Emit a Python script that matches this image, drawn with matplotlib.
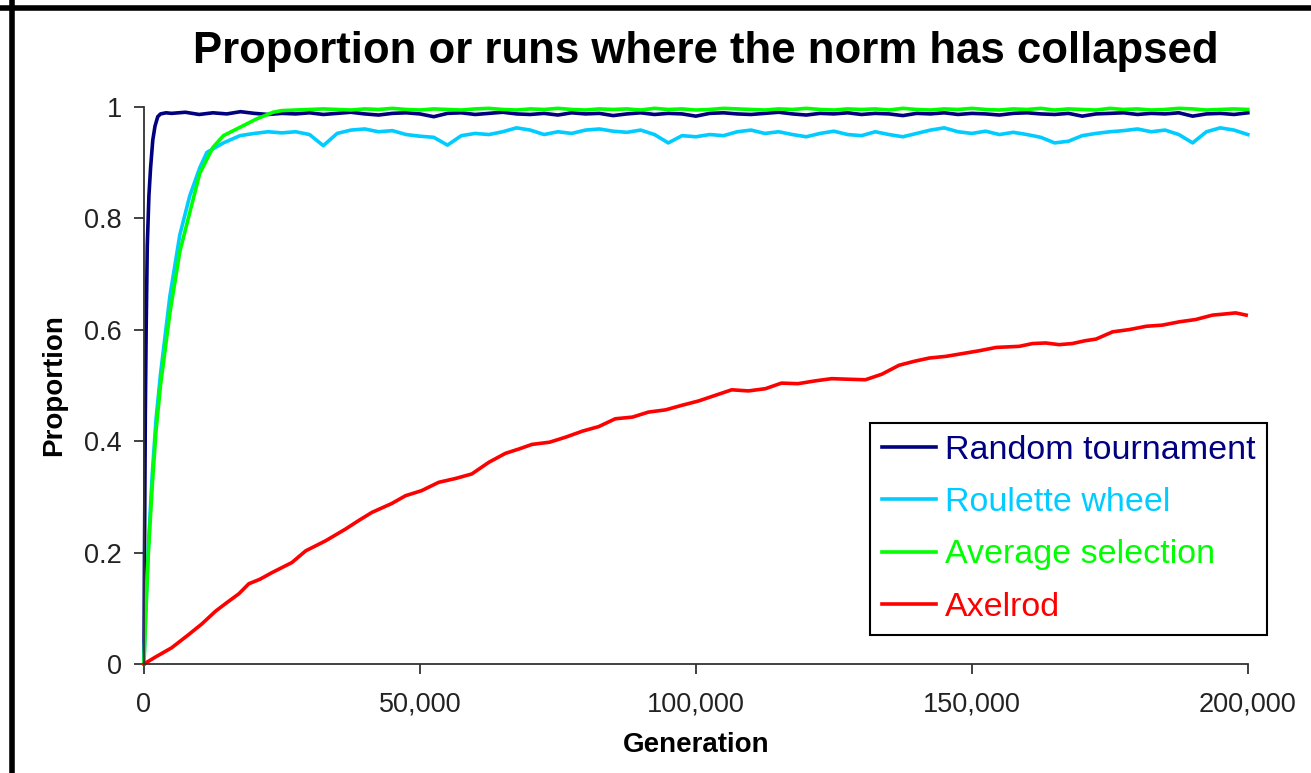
import numpy as np
import matplotlib
matplotlib.use("Agg")
import matplotlib.pyplot as plt
from matplotlib.lines import Line2D

plt.rcParams["font.family"] = ["Liberation Sans", "DejaVu Sans"]

# generations sampled along the plateau (shared by the three fast series)
plateau_gen = np.arange(25000, 200001, 2500)

# Random tournament
navy_rise_x = [0, 100, 250, 400, 600, 900, 1200, 1600, 2000, 2500, 3000, 4000, 5000,
               7500, 10000, 12500, 15000, 17500, 20000, 22500]
navy_rise_y = [0.0, 0.20, 0.45, 0.60, 0.75, 0.84, 0.89, 0.94, 0.965, 0.982, 0.987, 0.989, 0.988,
               0.990, 0.986, 0.989, 0.987, 0.991, 0.988, 0.986]
navy_plateau = [0.988, 0.987, 0.989, 0.986, 0.988, 0.990, 0.987, 0.985, 0.988, 0.989,
                0.987, 0.982, 0.988, 0.989, 0.986, 0.988, 0.990, 0.987, 0.986,
                0.988, 0.985, 0.989, 0.987, 0.988, 0.984, 0.987, 0.989, 0.986, 0.988,
                0.987, 0.983, 0.988, 0.989, 0.987, 0.986, 0.988, 0.990, 0.987, 0.985,
                0.988, 0.987, 0.989, 0.986, 0.988, 0.987, 0.984,
                0.988, 0.987, 0.989, 0.986, 0.988, 0.987, 0.985, 0.988, 0.989, 0.987,
                0.986, 0.988, 0.983, 0.987, 0.988, 0.989, 0.986, 0.988, 0.987, 0.989,
                0.983, 0.987, 0.988, 0.986, 0.989]

# Roulette wheel
cyan_rise_x = [0, 300, 800, 1500, 2200, 3000, 4700, 6500, 8300, 10100, 11400, 14400,
               17400, 20000, 22500]
cyan_rise_y = [0.0, 0.09, 0.21, 0.34, 0.44, 0.52, 0.66, 0.77, 0.84, 0.89, 0.918, 0.935,
               0.948, 0.952, 0.955]
cyan_plateau = [0.953, 0.955, 0.950, 0.930, 0.952, 0.958, 0.960, 0.955, 0.957, 0.950,
                0.947, 0.945, 0.931, 0.948, 0.952, 0.950, 0.955, 0.962, 0.958,
                0.950, 0.955, 0.952, 0.958, 0.960, 0.956, 0.954, 0.958, 0.950, 0.935,
                0.948, 0.946, 0.950, 0.948, 0.955, 0.958, 0.952, 0.955, 0.950, 0.946,
                0.952, 0.956, 0.950, 0.948, 0.955, 0.950, 0.946,
                0.952, 0.958, 0.962, 0.955, 0.952, 0.956, 0.950, 0.954, 0.950, 0.945,
                0.935, 0.938, 0.948, 0.952, 0.955, 0.957, 0.960, 0.955, 0.958, 0.950,
                0.935, 0.955, 0.962, 0.958, 0.950]

# Average selection
green_rise_x = [0, 300, 800, 1500, 2200, 3000, 4700, 6500, 8300, 10100, 12500, 14400,
                17400, 20400, 23400]
green_rise_y = [0.0, 0.08, 0.20, 0.32, 0.42, 0.50, 0.63, 0.74, 0.81, 0.88, 0.927, 0.948,
                0.963, 0.978, 0.990]
green_plateau = [0.993, 0.994, 0.995, 0.996, 0.995, 0.994, 0.996, 0.995, 0.997, 0.995,
                 0.994, 0.996, 0.995, 0.994, 0.996, 0.997, 0.995, 0.994, 0.996,
                 0.995, 0.997, 0.995, 0.994, 0.996, 0.995, 0.996, 0.994, 0.997, 0.995,
                 0.996, 0.994, 0.995, 0.997, 0.996, 0.995, 0.994, 0.996, 0.995, 0.997,
                 0.995, 0.994, 0.996, 0.995, 0.996, 0.994, 0.997,
                 0.995, 0.994, 0.996, 0.995, 0.997, 0.995, 0.994, 0.996, 0.995, 0.997,
                 0.994, 0.996, 0.995, 0.994, 0.997, 0.995, 0.996, 0.994, 0.995, 0.997,
                 0.996, 0.994, 0.995, 0.996, 0.995]

# Axelrod
red_x = [0, 2000, 5000, 8000, 10500, 13000, 15000, 17200, 19000, 21000, 23200, 26800,
         29300, 32900, 36500, 39000, 41300, 44900, 47400, 50300, 53400, 56500, 59400,
         62500, 65500, 68000, 70300, 73500, 76400, 79500, 82400, 85400, 88500, 91400,
         94500, 97400, 100500, 103500, 106500, 109500, 112600, 115500, 118500, 121600,
         124600, 127500, 130700, 133700, 136800, 139500, 142300, 145300, 148300, 151300,
         154400, 158600, 161000, 163400, 165800, 168200, 170500, 172500, 175500, 178500,
         181600, 184500, 187600, 190500, 193600, 195800, 197800, 199700]
red_y = [0.0, 0.012, 0.029, 0.052, 0.072, 0.095, 0.110, 0.126, 0.144, 0.152, 0.164, 0.182,
         0.203, 0.221, 0.242, 0.258, 0.272, 0.288, 0.302, 0.311, 0.326, 0.333, 0.341,
         0.362, 0.378, 0.386, 0.394, 0.398, 0.407, 0.418, 0.426, 0.440, 0.443, 0.452,
         0.456, 0.464, 0.472, 0.482, 0.492, 0.490, 0.494, 0.504, 0.503, 0.508,
         0.512, 0.511, 0.510, 0.520, 0.536, 0.543, 0.549, 0.552, 0.557, 0.562,
         0.568, 0.570, 0.575, 0.576, 0.573, 0.575, 0.580, 0.583, 0.596, 0.600,
         0.606, 0.608, 0.614, 0.618, 0.626, 0.628, 0.630, 0.626]

labels = ["Random tournament", "Roulette wheel", "Average selection", "Axelrod"]
colors = ["#000080", "#00CCFF", "#00FF00", "#FF0000"]

fig = plt.figure(figsize=(13.11, 7.73), dpi=100)
ax = fig.add_axes([0.1098, 0.141, 0.842, 0.721])

series = [
    (navy_rise_x + list(plateau_gen), navy_rise_y + navy_plateau),
    (cyan_rise_x + list(plateau_gen), cyan_rise_y + cyan_plateau),
    (green_rise_x + list(plateau_gen), green_rise_y + green_plateau),
    (red_x, red_y),
]
for (xs, ys), lab, col in zip(series, labels, colors):
    ax.plot(xs, ys, color=col, lw=2.6, label=lab, clip_on=False)

ax.set_xlim(0, 200000)
ax.set_ylim(0, 1)
ax.set_xticks([0, 50000, 100000, 150000, 200000])
ax.set_xticklabels(["0", "50,000", "100,000", "150,000", "200,000"])
ax.set_yticks([0, 0.2, 0.4, 0.6, 0.8, 1])
ax.set_yticklabels(["0", "0.2", "0.4", "0.6", "0.8", "1"])
for s in ["top", "right"]:
    ax.spines[s].set_visible(False)
for s in ["left", "bottom"]:
    ax.spines[s].set_color("#333333")
    ax.spines[s].set_linewidth(1.3)
ax.tick_params(direction="out", length=7, width=1.3, color="#333333",
               labelsize=19.5, labelcolor="#222222")
ax.tick_params(axis="y", pad=9)
ax.tick_params(axis="x", pad=13)

ax.set_xlabel("Generation", fontsize=20, fontweight="bold", labelpad=10)
ax.set_ylabel("Proportion", fontsize=20, fontweight="bold", labelpad=12)
fig.text(0.538, 0.933, "Proportion or runs where the norm has collapsed",
         fontsize=31.5, fontweight="bold", ha="center", va="center")

leg = ax.legend(loc="upper left", bbox_to_anchor=(0.6636, 0.4532),
                bbox_transform=fig.transFigure, borderaxespad=0, fontsize=24.5,
                fancybox=False, edgecolor="black", handlelength=1.6,
                handletextpad=0.25, labelspacing=0.63, borderpad=0.35,
                labelcolor="linecolor", framealpha=1)
leg.get_frame().set_linewidth(1.5)

# thick chart border (left and top edges visible in the original)
fig.add_artist(Line2D([0.0095, 0.0095], [0, 1], transform=fig.transFigure,
                      color="black", lw=4))
fig.add_artist(Line2D([0, 1], [0.990, 0.990], transform=fig.transFigure,
                      color="black", lw=4))

fig.savefig("out.png", dpi=100)
